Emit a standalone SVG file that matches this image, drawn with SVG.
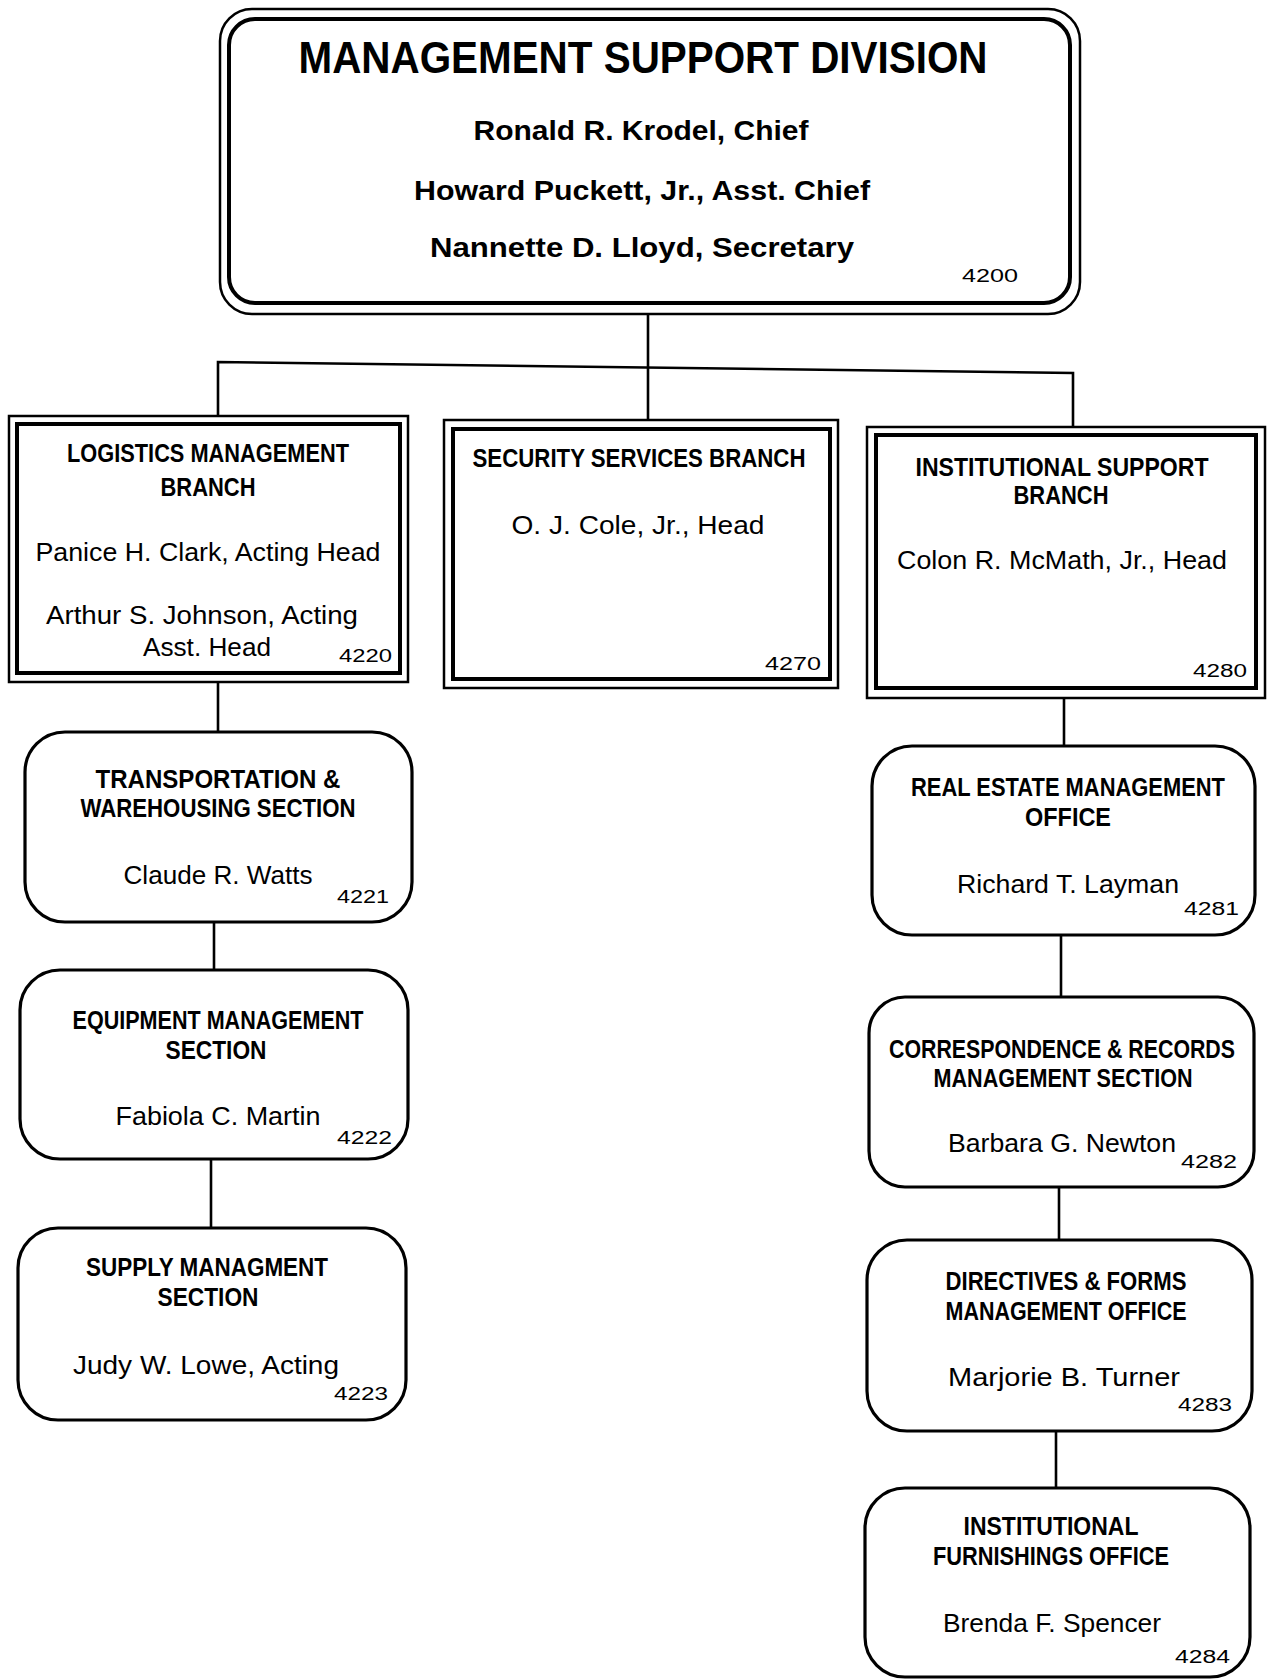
<svg xmlns="http://www.w3.org/2000/svg" width="1270" height="1680" viewBox="0 0 1270 1680">
<style>
.bg{fill:#fff}
.thin{fill:none;stroke:#000;stroke-width:2.5}
.thick{fill:none;stroke:#000;stroke-width:4}
.rbox{fill:#fff;stroke:#000;stroke-width:3.2}
.con{fill:none;stroke:#000;stroke-width:2.6}
text{font-family:"Liberation Sans",Arial,Helvetica,sans-serif;fill:#000}
.t{font-weight:bold;text-anchor:middle}
.h{font-weight:bold;text-anchor:middle;font-size:25px}
.n{text-anchor:middle;font-size:25px}
.c{text-anchor:end;font-size:18px}
</style>
<rect class="bg" x="0" y="0" width="1270" height="1680"/>
<g id="connectors">
<polyline class="con" points="218,416 218,362 1073,373 1073,427"/>
<line class="con" x1="648" y1="314" x2="648" y2="420"/>
<line class="con" x1="218" y1="682" x2="218" y2="732"/>
<line class="con" x1="214" y1="922" x2="214" y2="970"/>
<line class="con" x1="211" y1="1159" x2="211" y2="1228"/>
<line class="con" x1="1064" y1="698" x2="1064" y2="746"/>
<line class="con" x1="1061" y1="935" x2="1061" y2="997"/>
<line class="con" x1="1059" y1="1187" x2="1059" y2="1240"/>
<line class="con" x1="1056" y1="1431" x2="1056" y2="1488"/>
</g>
<g id="division">
<rect class="thin" x="220" y="9" width="860" height="305" rx="32"/>
<rect class="thick" x="229" y="19" width="841" height="284" rx="26"/>
<text class="t" x="643" y="73" font-size="44" textLength="689" lengthAdjust="spacingAndGlyphs">MANAGEMENT SUPPORT DIVISION</text>
<text class="t" x="641" y="140" font-size="28" textLength="335" lengthAdjust="spacingAndGlyphs">Ronald R. Krodel, Chief</text>
<text class="t" x="642" y="200" font-size="28" textLength="456" lengthAdjust="spacingAndGlyphs">Howard Puckett, Jr., Asst. Chief</text>
<text class="t" x="642" y="257" font-size="28" textLength="424" lengthAdjust="spacingAndGlyphs">Nannette D. Lloyd, Secretary</text>
<text class="c" x="1018" y="282" textLength="56" lengthAdjust="spacingAndGlyphs">4200</text>
</g>
<g id="logistics">
<rect class="thin" x="9" y="416" width="399" height="266"/>
<rect class="thick" x="17" y="424" width="383" height="249"/>
<text class="h" x="208" y="462" textLength="282" lengthAdjust="spacingAndGlyphs">LOGISTICS MANAGEMENT</text>
<text class="h" x="208" y="496" textLength="95" lengthAdjust="spacingAndGlyphs">BRANCH</text>
<text class="n" x="208" y="561" textLength="345" lengthAdjust="spacingAndGlyphs">Panice H. Clark, Acting Head</text>
<text class="n" x="202" y="624" textLength="312" lengthAdjust="spacingAndGlyphs">Arthur S. Johnson, Acting</text>
<text class="n" x="207" y="656" textLength="128" lengthAdjust="spacingAndGlyphs">Asst. Head</text>
<text class="c" x="392" y="662" textLength="53" lengthAdjust="spacingAndGlyphs">4220</text>
</g>
<g id="security">
<rect class="thin" x="444" y="420" width="394" height="268"/>
<rect class="thick" x="453" y="429" width="377" height="250"/>
<text class="h" x="639" y="467" textLength="333" lengthAdjust="spacingAndGlyphs">SECURITY SERVICES BRANCH</text>
<text class="n" x="638" y="534" textLength="253" lengthAdjust="spacingAndGlyphs">O. J. Cole, Jr.,   Head</text>
<text class="c" x="821" y="670" textLength="56" lengthAdjust="spacingAndGlyphs">4270</text>
</g>
<g id="institutional">
<rect class="thin" x="867" y="427" width="398" height="271"/>
<rect class="thick" x="876" y="435" width="380" height="253"/>
<text class="h" x="1062" y="476" textLength="293" lengthAdjust="spacingAndGlyphs">INSTITUTIONAL  SUPPORT</text>
<text class="h" x="1061" y="504" textLength="95" lengthAdjust="spacingAndGlyphs">BRANCH</text>
<text class="n" x="1062" y="569" textLength="330" lengthAdjust="spacingAndGlyphs">Colon R. McMath, Jr., Head</text>
<text class="c" x="1247" y="677" textLength="54" lengthAdjust="spacingAndGlyphs">4280</text>
</g>
<g id="transportation">
<rect class="rbox" x="25" y="732" width="387" height="190" rx="40"/>
<text class="h" x="218" y="788" textLength="245" lengthAdjust="spacingAndGlyphs">TRANSPORTATION  &amp;</text>
<text class="h" x="218" y="817" textLength="275" lengthAdjust="spacingAndGlyphs">WAREHOUSING SECTION</text>
<text class="n" x="218" y="884" textLength="189" lengthAdjust="spacingAndGlyphs">Claude R. Watts</text>
<text class="c" x="389" y="903" textLength="52" lengthAdjust="spacingAndGlyphs">4221</text>
</g>
<g id="equipment">
<rect class="rbox" x="20" y="970" width="388" height="189" rx="40"/>
<text class="h" x="218" y="1029" textLength="291" lengthAdjust="spacingAndGlyphs">EQUIPMENT MANAGEMENT</text>
<text class="h" x="216" y="1059" textLength="101" lengthAdjust="spacingAndGlyphs">SECTION</text>
<text class="n" x="218" y="1125" textLength="205" lengthAdjust="spacingAndGlyphs">Fabiola C. Martin</text>
<text class="c" x="392" y="1144" textLength="55" lengthAdjust="spacingAndGlyphs">4222</text>
</g>
<g id="supply">
<rect class="rbox" x="18" y="1228" width="388" height="192" rx="40"/>
<text class="h" x="207" y="1276" textLength="242" lengthAdjust="spacingAndGlyphs">SUPPLY MANAGMENT</text>
<text class="h" x="208" y="1306" textLength="101" lengthAdjust="spacingAndGlyphs">SECTION</text>
<text class="n" x="206" y="1374" textLength="266" lengthAdjust="spacingAndGlyphs">Judy W. Lowe, Acting</text>
<text class="c" x="388" y="1400" textLength="54" lengthAdjust="spacingAndGlyphs">4223</text>
</g>
<g id="realestate">
<rect class="rbox" x="872" y="746" width="383" height="189" rx="40"/>
<text class="h" x="1068" y="796" textLength="314" lengthAdjust="spacingAndGlyphs">REAL ESTATE MANAGEMENT</text>
<text class="h" x="1068" y="826" textLength="86" lengthAdjust="spacingAndGlyphs">OFFICE</text>
<text class="n" x="1068" y="893" textLength="222" lengthAdjust="spacingAndGlyphs">Richard T. Layman</text>
<text class="c" x="1239" y="915" textLength="55" lengthAdjust="spacingAndGlyphs">4281</text>
</g>
<g id="correspondence">
<rect class="rbox" x="869" y="997" width="385" height="190" rx="36"/>
<text class="h" x="1062" y="1058" textLength="346" lengthAdjust="spacingAndGlyphs">CORRESPONDENCE &amp; RECORDS</text>
<text class="h" x="1063" y="1087" textLength="259" lengthAdjust="spacingAndGlyphs">MANAGEMENT SECTION</text>
<text class="n" x="1062" y="1152" textLength="228" lengthAdjust="spacingAndGlyphs">Barbara G. Newton</text>
<text class="c" x="1237" y="1168" textLength="56" lengthAdjust="spacingAndGlyphs">4282</text>
</g>
<g id="directives">
<rect class="rbox" x="867" y="1240" width="385" height="191" rx="40"/>
<text class="h" x="1066" y="1290" textLength="241" lengthAdjust="spacingAndGlyphs">DIRECTIVES &amp; FORMS</text>
<text class="h" x="1066" y="1320" textLength="241" lengthAdjust="spacingAndGlyphs">MANAGEMENT OFFICE</text>
<text class="n" x="1064" y="1386" textLength="232" lengthAdjust="spacingAndGlyphs">Marjorie  B.  Turner</text>
<text class="c" x="1232" y="1411" textLength="54" lengthAdjust="spacingAndGlyphs">4283</text>
</g>
<g id="furnishings">
<rect class="rbox" x="865" y="1488" width="385" height="189" rx="40"/>
<text class="h" x="1051" y="1535" textLength="175" lengthAdjust="spacingAndGlyphs">INSTITUTIONAL</text>
<text class="h" x="1051" y="1565" textLength="236" lengthAdjust="spacingAndGlyphs">FURNISHINGS OFFICE</text>
<text class="n" x="1052" y="1632" textLength="218" lengthAdjust="spacingAndGlyphs">Brenda F. Spencer</text>
<text class="c" x="1230" y="1663" textLength="55" lengthAdjust="spacingAndGlyphs">4284</text>
</g>
</svg>
